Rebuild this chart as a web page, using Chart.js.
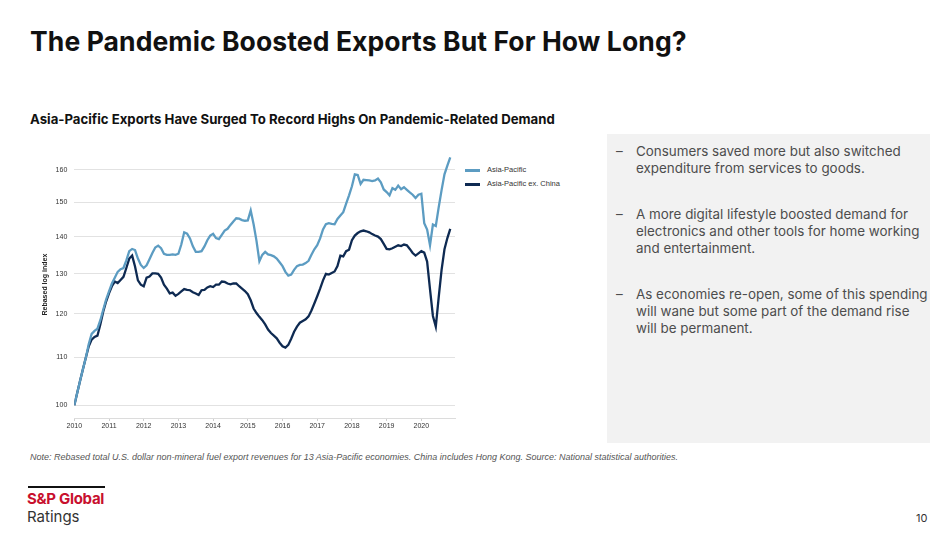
<!DOCTYPE html>
<html>
<head>
<meta charset="utf-8">
<script src="https://cdn.jsdelivr.net/npm/chart.js@4"></script>
<style>
  body { margin: 0; width: 950px; height: 535px; background: #fff; position: relative; overflow: hidden; font-family: Inter, "Liberation Sans", sans-serif; }
  .abs { position: absolute; }
  #title { left: 30px; top: 25px; font-size: 26.5px; font-weight: 700; color: #111; letter-spacing: 0.1px; }
  #subtitle { left: 30px; top: 111px; font-size: 13.2px; font-weight: 700; color: #111; }
  #chartBox { left: 30px; top: 140px; width: 430px; height: 295px; }
  .leg { left: 465px; font-family: "Liberation Sans", Arial, sans-serif; font-size: 7.5px; color: #333; }
  .leg span { display: inline-block; width: 15px; height: 3px; vertical-align: middle; margin-right: 7px; }
  #panel { left: 607px; top: 134px; width: 323px; height: 309px; background: #f2f2f2; }
  #panel p { position: relative; margin: 0 0 29px 0; padding-left: 29px; font-size: 13.4px; line-height: 17px; color: #4d4d4d; }
  #panel p::before { content: "\2013"; position: absolute; left: 9px; }
  #note { left: 30px; top: 452px; font-size: 9px; font-style: italic; color: #555; font-family: "Liberation Sans", Arial, sans-serif; }
  #logoBar { left: 28px; top: 486px; width: 77px; height: 2px; background: #111; }
  #logo1 { left: 27px; top: 489px; font-size: 15px; font-weight: 700; color: #c8102e; letter-spacing: -0.3px; }
  #logo2 { left: 27px; top: 507px; font-size: 15px; color: #333; }
  #page { left: 916px; top: 511px; font-size: 11px; color: #333; }
</style>
</head>
<body>
<div id="title" class="abs">The Pandemic Boosted Exports But For How Long?</div>
<div id="subtitle" class="abs">Asia-Pacific Exports Have Surged To Record Highs On Pandemic-Related Demand</div>
<div id="chartBox" class="abs"><canvas id="myChart"></canvas></div>
<div id="leg1" class="abs leg" style="top:165px"><span></span>Asia-Pacific</div>
<div id="leg2" class="abs leg" style="top:179px"><span></span>Asia-Pacific ex. China</div>
<div id="panel" class="abs">
  <div style="padding-top:9px">
    <p>Consumers saved more but also switched expenditure from services to goods.</p>
    <p>A more digital lifestyle boosted demand for electronics and other tools for home working and entertainment.</p>
    <p>As economies re-open, some of this spending will wane but some part of the demand rise will be permanent.</p>
  </div>
</div>
<div id="note" class="abs">Note: Rebased total U.S. dollar non-mineral fuel export revenues for 13 Asia-Pacific economies. China includes Hong Kong. Source: National statistical authorities.</div>
<div id="logoBar" class="abs"></div>
<div id="logo1" class="abs">S&amp;P Global</div>
<div id="logo2" class="abs">Ratings</div>
<div id="page" class="abs">10</div>

<script>
// Monatliche Werte, Jan 2010 bis Nov 2020
const startYear = 2010;
const yearTicks = [2010, 2011, 2012, 2013, 2014, 2015, 2016, 2017, 2018, 2019, 2020];
const yTicks = [100, 110, 120, 130, 140, 150, 160];

const asiaPacific = [
  100, 102.5, 105, 107.5, 110, 113, 115.3, 116, 116.5, 118.5, 121, 123.5,
  125.5, 127.5, 129, 130.5, 131.2, 131.5, 133.5, 136, 136.6, 136.3, 134, 132.3,
  131.5, 132.2, 133.8, 135.5, 137, 137.5, 136.8, 135.3, 135, 135, 135.1, 135,
  135.3, 137.8, 141.2, 140.8, 139.5, 137.3, 135.8, 135.8, 136, 137.3, 139, 140.3,
  140.8, 139.6, 139.3, 140.5, 141.7, 142.2, 143.3, 144.3, 145.2, 145.1, 144.7, 144.5,
  144.6, 147.5, 143.5, 138.8, 133.3, 135, 135.8, 135.1, 134.9, 134.6, 134, 133,
  132, 130.5, 129.5, 129.8, 131, 132, 132.3, 132.4, 132.8, 133.4, 135, 136.5,
  137.6, 139.5, 142, 143.5, 143.8, 143.6, 143.5, 145, 146, 147, 149.5, 152,
  154.8, 158.5, 158.3, 155.5, 156.8, 156.7, 156.6, 156.4, 156.6, 157.2, 156, 153.8,
  153, 152, 154.2, 153.7, 155, 153.9, 154.5, 153.7, 152.9, 152.2, 151.2, 152.2,
  152.5, 143.8, 142, 137.6, 143.4, 143, 148.4, 153.6, 158.5, 161.3, 164
];

const asiaPacificExChina = [
  100, 102.5, 105, 107.5, 110, 112.5, 114, 114.6, 114.9, 117.5, 120.5, 123,
  125, 126.8, 128, 127.6, 128.4, 129.2, 131.5, 134, 134.8, 131.9, 128.3, 127.2,
  126.8, 129, 129.3, 130.1, 130.1, 130, 129, 127.2, 126.2, 125, 125.2, 124.4,
  124.9, 125.5, 126.1, 125.9, 125.8, 125.3, 125, 124.6, 125.8, 125.9, 126.5, 126.8,
  126.6, 127.2, 127.2, 128, 127.9, 127.5, 127.3, 127.5, 127.5, 126.8, 126.2, 125.6,
  124.8, 123.3, 121.3, 120.2, 119.3, 118.5, 117.5, 116.3, 115.5, 114.9, 114.3, 113.3,
  112.5, 112.2, 112.8, 114.2, 115.8, 117, 117.9, 118.3, 118.7, 119.4, 120.8, 122.5,
  124.3, 126.2, 128.3, 130, 129.8, 130.2, 130.6, 132, 134.8, 134.6, 136, 136.4,
  139, 140.3, 141, 141.5, 141.7, 141.5, 141.2, 140.7, 140.3, 140, 139.3, 138,
  136.6, 136.5, 136.8, 137.2, 137.6, 137.4, 137.8, 137.6, 136.6, 135.5, 134.8, 135.4,
  136, 135.6, 133.2, 126, 119.5, 117, 124, 131, 136.5, 139.6, 142.2
];

const lightBlue = '#5c9cc2';
const navy = '#0e2a52';

document.querySelector('#leg1 span').style.background = lightBlue;
document.querySelector('#leg2 span').style.background = navy;

// x-Werte als Dezimaljahr
const toPoints = arr => arr.map((v, i) => ({ x: startYear + i / 12, y: v }));

const ctx = document.getElementById('myChart');

new Chart(ctx, {
  type: 'line',
  data: {
    datasets: [{
      label: 'Asia-Pacific',
      data: toPoints(asiaPacific),
      borderColor: lightBlue,
      borderWidth: 2.3,
      pointRadius: 0,
      tension: 0
    }, {
      label: 'Asia-Pacific ex. China',
      data: toPoints(asiaPacificExChina),
      borderColor: navy,
      borderWidth: 2.3,
      pointRadius: 0,
      tension: 0
    }]
  },
  options: {
    responsive: true,
    maintainAspectRatio: false,
    animation: false,
    layout: { padding: { top: 11, right: 5, left: 0, bottom: 0 } },
    plugins: {
      legend: { display: false },
      tooltip: { enabled: false }
    },
    scales: {
      x: {
        type: 'linear',
        min: 2010,
        max: 2020.97,
        afterBuildTicks: scale => { scale.ticks = yearTicks.map(v => ({ value: v })); },
        afterFit: scale => { scale.height = 17; },
        ticks: {
          callback: v => String(v),
          color: '#333',
          font: { family: 'Liberation Sans', size: 7 },
          padding: 1,
          maxRotation: 0
        },
        grid: { drawOnChartArea: false, drawTicks: true, tickLength: 3, color: '#cfcfcf' },
        border: { color: '#dcdcdc' }
      },
      y: {
        type: 'logarithmic',
        min: 97.5,
        max: 166,
        afterBuildTicks: scale => { scale.ticks = yTicks.map(v => ({ value: v })); },
        afterFit: scale => { scale.width = 44.3; },
        ticks: {
          callback: v => String(v),
          color: '#333',
          font: { family: 'Liberation Sans', size: 7 },
          padding: 7
        },
        grid: { color: '#e2e2e2', drawTicks: false, lineWidth: 1 },
        border: { display: false },
        title: {
          display: true,
          text: 'Rebased log index',
          color: '#222',
          font: { family: 'Liberation Sans', size: 7, weight: 'bold' },
          padding: { top: 11, bottom: 0 }
        }
      }
    }
  }
});
</script>
</body>
</html>
